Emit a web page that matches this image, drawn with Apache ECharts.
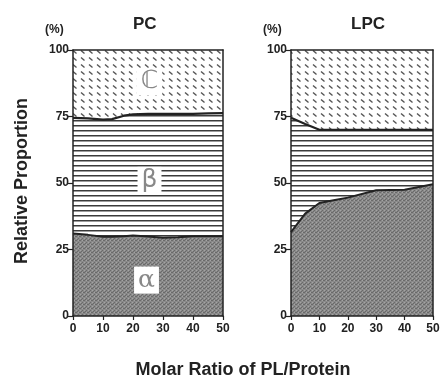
<!DOCTYPE html>
<html>
<head>
<meta charset="utf-8">
<script src="https://cdn.jsdelivr.net/npm/echarts@6/dist/echarts.min.js"></script>
<style>
  html, body { margin: 0; padding: 0; background: #fff; }
  #main { width: 445px; height: 382px; }
</style>
</head>
<body>
<div id="main"></div>
<script>
// molar ratio PL/protein and boundaries between the alpha / beta / C fractions (%)
const pcX = [0, 5, 10, 13, 17, 20, 25, 30, 35, 40, 45, 50];
const pcAlpha = [31, 30.5, 29.8, 29.8, 30, 30.3, 29.9, 29.4, 29.6, 30, 30, 30];
const pcBeta = [74.5, 74.3, 73.8, 74, 75.3, 75.8, 76, 76, 76, 76, 76.2, 76.3];

const lpcX = [0, 5, 10, 15, 20, 30, 40, 50];
const lpcAlpha = [31.5, 38.5, 42.5, 43.5, 44.5, 47.3, 47.5, 49.5];
const lpcBeta = [74.5, 72.2, 70, 70, 70, 70, 70, 70];

const totalTop = 100;
const xTicks = ['0', '10', '20', '30', '40', '50'];
const yTicks = ['0', '25', '50', '75', '100'];

// fill textures
function tile(w, h, draw) {
  const c = document.createElement('canvas');
  c.width = w; c.height = h;
  const ctx = c.getContext('2d');
  ctx.fillStyle = '#fff';
  ctx.fillRect(0, 0, w, h);
  draw(ctx);
  return { image: c, repeat: 'repeat' };
}
const cFill = tile(8, 7, ctx => {
  ctx.strokeStyle = '#555';
  ctx.lineWidth = 1.4;
  ctx.beginPath();
  ctx.moveTo(1, 1.5); ctx.lineTo(4.5, 4.5);
  ctx.stroke();
});
const betaFill = tile(5, 5, ctx => {
  ctx.fillStyle = '#3a3a3a';
  ctx.fillRect(0, 0, 5, 1.5);
});
const alphaFill = tile(4, 4, ctx => {
  ctx.fillStyle = '#8a8a8a';
  ctx.fillRect(0, 0, 4, 4);
  ctx.fillStyle = '#6a6a6a';
  ctx.fillRect(0, 0, 1, 1); ctx.fillRect(2, 2, 1, 1); ctx.fillRect(3, 0, 1, 1); ctx.fillRect(1, 3, 1, 1);
  ctx.fillStyle = '#a4a4a4';
  ctx.fillRect(2, 0, 1, 1); ctx.fillRect(0, 2, 1, 1);
});

const ink = '#222';
const font = 'Liberation Sans, Arial, sans-serif';

function pairs(xs, ys) { return xs.map((x, i) => [x, ys[i]]); }

function xAxes(gi) {
  return [
    {
      gridIndex: gi, type: 'value', min: 0, max: 50, interval: 10, position: 'bottom', z: 5,
      axisLine: { show: true, lineStyle: { color: ink, width: 1.5 } },
      axisTick: { show: true, length: 4, lineStyle: { color: ink, width: 1.2 } },
      axisLabel: { color: ink, fontFamily: font, fontWeight: 'bold', fontSize: 12, margin: 7,
        formatter: v => xTicks[v / 10] },
      splitLine: { show: false }
    },
    {
      gridIndex: gi, type: 'value', min: 0, max: 50, position: 'top', z: 5,
      axisLine: { show: true, onZero: false, lineStyle: { color: ink, width: 1.5 } },
      axisTick: { show: false }, axisLabel: { show: false }, splitLine: { show: false }
    }
  ];
}
function yAxes(gi) {
  return [
    {
      gridIndex: gi, type: 'value', min: 0, max: 100, interval: 25, position: 'left', z: 5,
      axisLine: { show: true, lineStyle: { color: ink, width: 1.5 } },
      axisTick: { show: true, length: 5, lineStyle: { color: ink, width: 1.2 } },
      axisLabel: { color: ink, fontFamily: font, fontWeight: 'bold', fontSize: 12, margin: 4,
        formatter: v => yTicks[v / 25] },
      splitLine: { show: false }
    },
    {
      gridIndex: gi, type: 'value', min: 0, max: 100, position: 'right', z: 5,
      axisLine: { show: true, onZero: false, lineStyle: { color: ink, width: 1.5 } },
      axisTick: { show: false }, axisLabel: { show: false }, splitLine: { show: false }
    }
  ];
}

function panelSeries(xi, yi, xs, alpha, beta, labels) {
  const base = { type: 'line', xAxisIndex: xi, yAxisIndex: yi, symbol: 'none', silent: true };
  const tag = (coord, text, family) => ({
    coord: coord, symbol: 'circle', symbolSize: 1, itemStyle: { color: 'rgba(0,0,0,0)' },
    label: { show: true, position: 'inside', formatter: text, color: '#888',
      fontFamily: family, fontSize: 25,
      backgroundColor: '#fff', padding: [2, 4, 0, 4] }
  });
  return [
    Object.assign({}, base, {
      name: 'C', z: 2,
      data: [[xs[0], totalTop], [xs[xs.length - 1], totalTop]],
      lineStyle: { width: 0 }, areaStyle: { color: cFill, opacity: 1 },
      markPoint: labels ? { silent: true, z: 10, data: [tag(labels.c, '\u2102', 'DejaVu Sans, sans-serif')] } : undefined
    }),
    Object.assign({}, base, {
      name: 'beta', z: 3,
      data: pairs(xs, beta),
      lineStyle: { width: 2.2, color: ink }, areaStyle: { color: betaFill, opacity: 1 },
      markPoint: labels ? { silent: true, z: 10, data: [tag(labels.b, '\u03b2', 'DejaVu Sans, sans-serif')] } : undefined
    }),
    Object.assign({}, base, {
      name: 'alpha', z: 4,
      data: pairs(xs, alpha),
      lineStyle: { width: 2, color: ink }, areaStyle: { color: alphaFill, opacity: 1 },
      markPoint: labels ? { silent: true, z: 10, data: [tag(labels.a, '\u03b1', 'DejaVu Serif, serif')] } : undefined
    })
  ];
}

const chart = echarts.init(document.getElementById('main'));
chart.setOption({
  animation: false,
  backgroundColor: '#fff',
  grid: [
    { left: 73, top: 50, width: 150, height: 266 },
    { left: 291, top: 50, width: 142, height: 266 }
  ],
  xAxis: xAxes(0).concat(xAxes(1)),
  yAxis: yAxes(0).concat(yAxes(1)),
  series: panelSeries(0, 0, pcX, pcAlpha, pcBeta, { c: [25.5, 88], b: [25.5, 51], a: [24.5, 13.5] })
    .concat(panelSeries(2, 2, lpcX, lpcAlpha, lpcBeta, null)),
  graphic: [
    { type: 'text', left: 133, top: 16, style: { text: 'PC', font: 'bold 17px ' + font, fill: ink } },
    { type: 'text', left: 351, top: 16, style: { text: 'LPC', font: 'bold 17px ' + font, fill: ink } },
    { type: 'text', left: 45, top: 24, style: { text: '(%)', font: 'bold 12px ' + font, fill: ink } },
    { type: 'text', left: 263, top: 24, style: { text: '(%)', font: 'bold 12px ' + font, fill: ink } },
    { type: 'text', x: 22, y: 181, rotation: Math.PI / 2,
      style: { text: 'Relative Proportion', font: 'bold 18px ' + font, fill: ink, align: 'center', verticalAlign: 'middle' } },
    { type: 'text', x: 243, y: 370,
      style: { text: 'Molar Ratio of PL/Protein', font: 'bold 18px ' + font, fill: ink, align: 'center', verticalAlign: 'middle' } }
  ]
});
</script>
</body>
</html>
